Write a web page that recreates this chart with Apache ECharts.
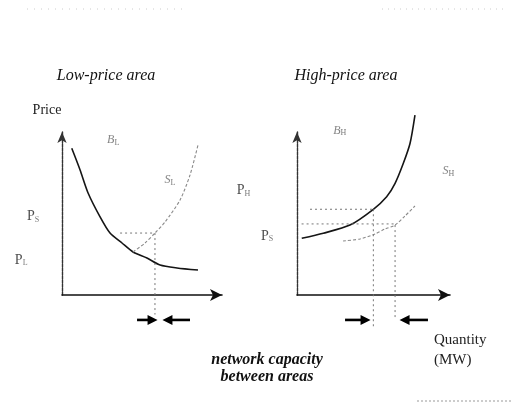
<!DOCTYPE html>
<html>
<head>
<meta charset="utf-8">
<script src="https://cdn.jsdelivr.net/npm/echarts@6/dist/echarts.min.js"></script>
<style>
  html, body { margin: 0; padding: 0; background: #fff; }
  #chart { width: 517px; height: 403px; }
</style>
</head>
<body>
<div id="chart"></div>
<script>
// Market splitting between two price areas (quantity vs price, arbitrary units 0..10)
const panelTitles = ['Low-price area', 'High-price area'];
const priceAxisName = 'Price';
const quantityLabel = ['Quantity', '(MW)'];
const noteLines = ['network capacity', 'between areas'];

// ---- Low-price area ----
const lowMainCurve = [[0.61, 9.0], [1.13, 7.67], [1.63, 6.26], [2.38, 4.79], [3.0, 3.8], [3.75, 3.19],
                      [4.44, 2.64], [5.31, 2.27], [6.13, 1.84], [7.19, 1.66], [8.5, 1.53]];
const lowShiftedCurve = [[4.44, 2.64], [5.19, 3.19], [5.81, 3.8], [6.44, 4.48], [7.38, 5.83], [8.0, 7.36], [8.5, 9.2]];
const lowGuides = [
  [[3.63, 3.8], [5.81, 3.8]],
  [[5.81, 3.8], [5.81, -1.2]]
];
const lowFlowArrows = [
  [[4.69, -1.53], [5.66, -1.53]],
  [[8.0, -1.53], [6.59, -1.53]]
];
const lowLabels = [
  [3.2, 9.5, 'B', 'L', 'curve'],
  [6.75, 7.05, 'S', 'L', 'curve'],
  [-1.8, 4.8, 'P', 'S', 'price'],
  [-2.55, 2.15, 'P', 'L', 'price']
];

// ---- High-price area ----
const highMainCurve = [[0.31, 3.48], [1.72, 3.79], [3.46, 4.29], [4.99, 5.26], [5.86, 6.03], [6.41, 6.85],
                       [6.95, 8.08], [7.39, 9.31], [7.71, 11.04]];
const highShiftedCurve = [[3.01, 3.31], [4.12, 3.44], [5.1, 3.74], [5.75, 4.05], [6.41, 4.29], [7.06, 4.85], [7.71, 5.46]];
const highGuides = [
  [[0.85, 5.26], [4.99, 5.26]],
  [[0.3, 4.36], [6.41, 4.36]],
  [[4.99, 5.26], [4.99, -2.0]],
  [[6.41, 4.29], [6.41, -1.53]]
];
const highFlowArrows = [
  [[3.14, -1.53], [4.48, -1.53]],
  [[8.56, -1.53], [7.03, -1.53]]
];
const highLabels = [
  [2.8, 10.1, 'B', 'H', 'curve'],
  [9.9, 7.6, 'S', 'H', 'curve'],
  [-3.5, 6.4, 'P', 'H', 'price'],
  [-1.95, 3.6, 'P', 'S', 'price']
];

const SERIF = '"Liberation Serif", "DejaVu Serif", serif';

function makeAxes(gridIndex, withName) {
  const base = { gridIndex, type: 'value', min: 0, max: 10, axisTick: { show: false },
                 axisLabel: { show: false }, splitLine: { show: false } };
  const x = Object.assign({}, base, {
    axisLine: { onZero: false, symbol: ['none', 'arrow'], symbolSize: [9, 12],
                lineStyle: { color: '#111', width: 1.6 } }
  });
  const y = Object.assign({}, base, {
    axisLine: { onZero: false, symbol: ['none', 'arrow'], symbolSize: [7, 11],
                lineStyle: { color: '#333', width: 1.4, type: [3, 1] } }
  });
  if (withName) {
    y.name = priceAxisName;
    y.nameLocation = 'end';
    y.nameGap = 15;
    y.nameTextStyle = { fontFamily: SERIF, fontSize: 14, color: '#222', padding: [0, 30, 0, 0] };
  }
  return { x, y };
}

function panelSeries(idx, main, shifted, guides, arrows, labels) {
  const common = { xAxisIndex: idx, yAxisIndex: idx, silent: true, animation: false, clip: false };
  const out = [];
  out.push(Object.assign({}, common, {
    type: 'line', data: main, symbol: 'none', smooth: 0.25,
    lineStyle: { color: '#151515', width: 1.6 }
  }));
  out.push(Object.assign({}, common, {
    type: 'line', data: shifted, symbol: 'none', smooth: 0.25,
    lineStyle: { color: '#8a8a8a', width: 1.1, type: [3, 2] }
  }));
  guides.forEach(seg => out.push(Object.assign({}, common, {
    type: 'line', data: seg, symbol: 'none',
    lineStyle: { color: '#777', width: 1, type: [2, 3] }
  })));
  arrows.forEach(([tail, head]) => out.push(Object.assign({}, common, {
    type: 'line', symbol: 'none',
    data: [tail, { value: head, symbol: 'triangle', symbolSize: [10, 10],
                   symbolRotate: head[0] > tail[0] ? -90 : 90 }],
    itemStyle: { color: '#000' },
    lineStyle: { color: '#000', width: 2.6 }
  })));
  out.push(Object.assign({}, common, {
    type: 'scatter', symbol: 'circle', symbolSize: 1,
    itemStyle: { color: 'rgba(0,0,0,0)' },
    data: labels.map(l => ({ value: [l[0], l[1]], name: '{' + l[4] + '|' + l[2] + '}{sub|' + l[3] + '}' })),
    label: {
      show: true, position: 'inside', formatter: p => p.name,
      rich: {
        curve: { fontFamily: SERIF, fontStyle: 'italic', fontSize: 12, color: '#666' },
        price: { fontFamily: SERIF, fontSize: 14, color: '#222' },
        sub: { fontFamily: SERIF, fontSize: 8, color: '#555', verticalAlign: 'bottom', padding: [6, 0, 0, 0] }
      }
    }
  }));
  return out;
}

function txt(x, y, text, font, align, color) {
  return { type: 'text', x, y, silent: true,
           style: { text, font, align, textAlign: align, verticalAlign: 'middle',
                    textVerticalAlign: 'middle', fill: color || '#111' } };
}

const a0 = makeAxes(0, true);
const a1 = makeAxes(1, false);

const option = {
  backgroundColor: '#fff',
  animation: false,
  grid: [
    { left: 62, top: 132, width: 160, height: 163 },
    { left: 297, top: 132, width: 153, height: 163 }
  ],
  xAxis: [a0.x, a1.x],
  yAxis: [a0.y, a1.y],
  series: [].concat(
    panelSeries(0, lowMainCurve, lowShiftedCurve, lowGuides, lowFlowArrows, lowLabels),
    panelSeries(1, highMainCurve, highShiftedCurve, highGuides, highFlowArrows, highLabels)
  ),
  graphic: [
    txt(106, 76, panelTitles[0], 'italic 16px ' + SERIF, 'center'),
    txt(346, 76, panelTitles[1], 'italic 16px ' + SERIF, 'center'),
    txt(267, 360, noteLines[0], 'italic bold 16px ' + SERIF, 'center'),
    txt(267, 377, noteLines[1], 'italic bold 16px ' + SERIF, 'center'),
    txt(434, 340, quantityLabel[0], '15px ' + SERIF, 'left', '#222'),
    txt(434, 360, quantityLabel[1], '15px ' + SERIF, 'left', '#222'),
    // faint page rules
    { type: 'line', silent: true, shape: { x1: 417, y1: 401, x2: 512, y2: 401 },
      style: { stroke: '#999', lineWidth: 1, lineDash: [2, 2] } },
    { type: 'line', silent: true, shape: { x1: 27, y1: 9, x2: 185, y2: 9 },
      style: { stroke: '#ccc', lineWidth: 1, lineDash: [1, 6] } },
    { type: 'line', silent: true, shape: { x1: 382, y1: 9, x2: 505, y2: 9 },
      style: { stroke: '#ccc', lineWidth: 1, lineDash: [1, 5] } }
  ]
};

const chart = echarts.init(document.getElementById('chart'), null, { renderer: 'canvas' });
chart.setOption(option);
</script>
</body>
</html>
